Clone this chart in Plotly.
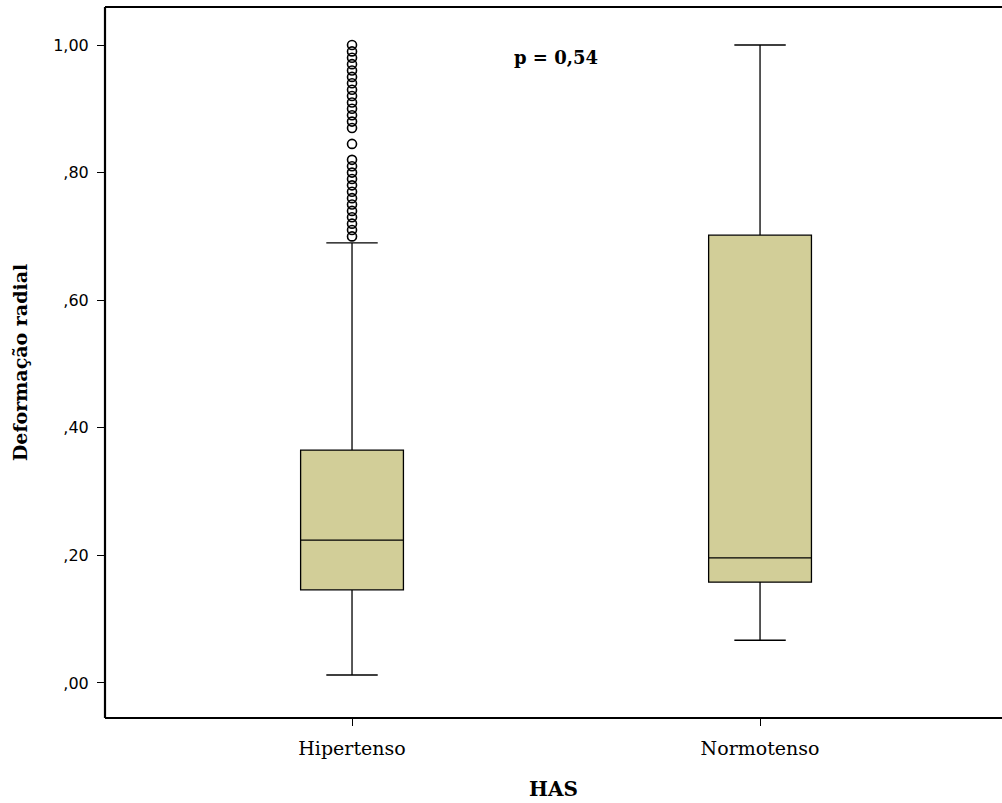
import plotly.graph_objects as go

categories = ["Hipertenso", "Normotenso"]
q1 = [0.146, 0.158]
median = [0.224, 0.196]
q3 = [0.365, 0.702]
lower_whisker = [0.0125, 0.067]
upper_whisker = [0.690, 1.000]
outliers_hipertenso = [0.70, 0.71, 0.72, 0.73, 0.74, 0.75, 0.76, 0.77, 0.78, 0.79, 0.80, 0.81, 0.82,
                       0.845,
                       0.87, 0.88, 0.89, 0.90, 0.91, 0.92, 0.93, 0.94, 0.95, 0.96, 0.97, 0.98, 0.99, 1.00]
y_ticks = [0.0, 0.2, 0.4, 0.6, 0.8, 1.0]
y_tick_labels = [",00", ",20", ",40", ",60", ",80", "1,00"]

fig = go.Figure()
for i, name in enumerate(categories):
    fig.add_trace(go.Box(
        x=[i], q1=[q1[i]], median=[median[i]], q3=[q3[i]],
        lowerfence=[lower_whisker[i]], upperfence=[upper_whisker[i]],
        width=0.252, whiskerwidth=0.5, boxpoints=False,
        fillcolor="rgb(210,206,152)",
        line=dict(color="black", width=1.3),
        name=name, showlegend=False, hoverinfo="skip",
    ))

fig.add_trace(go.Scatter(
    x=[0] * len(outliers_hipertenso), y=outliers_hipertenso, mode="markers",
    marker=dict(symbol="circle-open", size=9, color="black", line=dict(width=1.6)),
    showlegend=False, hoverinfo="skip",
))

fig.add_annotation(x=0.5, y=0.981, text="<b>p = 0,54</b>", showarrow=False,
                   font=dict(family="DejaVu Serif", size=18, color="black"))

# frame: left, top, bottom (right side is cut off in the original)
for (x0, y0, x1, y1) in [(0, 0, 0, 1), (0, 1, 1.01, 1), (0, 0, 1.01, 0)]:
    fig.add_shape(type="line", xref="paper", yref="paper", x0=x0, y0=y0, x1=x1, y1=y1,
                  line=dict(color="black", width=2.2))

fig.update_layout(
    width=1002, height=803,
    margin=dict(l=105, r=0, t=7, b=85),
    paper_bgcolor="white", plot_bgcolor="white",
    xaxis=dict(range=[-0.6054, 1.593], tickvals=[0, 1], ticktext=categories,
               showgrid=False, zeroline=False, showline=False,
               ticks="outside", ticklen=7, tickcolor="black", tickwidth=1.3,
               ticklabelstandoff=6,
               tickfont=dict(family="DejaVu Serif", size=19, color="black"),
               title=dict(text="<b>HAS</b>", standoff=24,
                          font=dict(family="DejaVu Serif", size=20, color="black"))),
    yaxis=dict(range=[-0.0549, 1.0596], tickvals=y_ticks, ticktext=y_tick_labels,
               showgrid=False, zeroline=False, showline=False,
               ticks="outside", ticklen=7, tickcolor="black", tickwidth=1.3,
               ticklabelstandoff=5,
               tickfont=dict(family="DejaVu Sans", size=16, color="black"),
               title=dict(text="<b>Deformação radial</b>", standoff=20,
                          font=dict(family="DejaVu Serif", size=19, color="black"))),
)

fig.write_html("out.html")
